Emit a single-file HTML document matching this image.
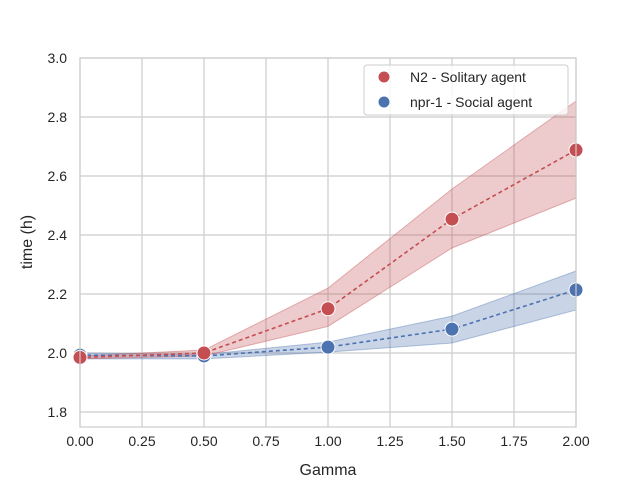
<!DOCTYPE html>
<html><head><meta charset="utf-8"><style>
body{margin:0;background:#fff;}
svg{display:block;font-family:"Liberation Sans","DejaVu Sans",sans-serif;}
</style></head><body>
<svg id="chart" width="640" height="480" viewBox="0 0 640 480">
<rect x="80" y="58" width="496" height="369" fill="#fff"/>
<g id="grid"></g><g id="bands"></g><g id="lines"></g><g id="ticks"></g>
<rect x="80" y="58" width="496" height="369" fill="none" stroke="#ccc" stroke-width="1.2"/>
<text x="328" y="475" text-anchor="middle" font-size="16" fill="#262626">Gamma</text>
<text x="32" y="242" text-anchor="middle" font-size="16" fill="#262626" transform="rotate(-90 32 242)">time (h)</text>
<g>
<rect x="364" y="65" width="204" height="50" rx="3" fill="#fff" fill-opacity="0.8" stroke="#ccc"/>
<circle cx="384" cy="77" r="6" fill="#c44e52" stroke="#fff"/>
<text x="410" y="82" font-size="14" fill="#262626">N2 - Solitary agent</text>
<circle cx="384" cy="102" r="6" fill="#4c72b0" stroke="#fff"/>
<text x="410" y="107" font-size="14" fill="#262626">npr-1 - Social agent</text>
</g>
</svg>
<script>
const gammas=[0,0.5,1.0,1.5,2.0];
const n2Mean=[1.985,2.0,2.15,2.454,2.688];
const n2Low=[1.98,1.99,2.09,2.356,2.525];
const n2High=[1.99,2.01,2.22,2.556,2.854];
const nprMean=[1.993,1.99,2.02,2.081,2.214];
const nprLow=[1.98,1.98,2.003,2.034,2.146];
const nprHigh=[2.0,1.995,2.037,2.125,2.278];
const xTicks=[0,0.25,0.5,0.75,1.0,1.25,1.5,1.75,2.0];
const xTickLabels=["0.00","0.25","0.50","0.75","1.00","1.25","1.50","1.75","2.00"];
const yTicks=[1.8,2.0,2.2,2.4,2.6,2.8,3.0];
const yTickLabels=["1.8","2.0","2.2","2.4","2.6","2.8","3.0"];
const NS="http://www.w3.org/2000/svg";
const X=v=>80+v/2*496;
const Y=v=>412-(v-1.8)*295;
function mk(tag,attrs,parent){const e=document.createElementNS(NS,tag);for(const k in attrs)e.setAttribute(k,attrs[k]);document.getElementById(parent).appendChild(e);return e;}
xTicks.forEach((t,i)=>{
 const g=mk('line',{x1:X(t),x2:X(t),y1:58,y2:427,stroke:'#ccc','stroke-width':1.2},'grid');
 
 
 const l=mk('text',{x:X(t),y:446,'text-anchor':'middle','font-size':14,fill:'#262626'},'ticks');
 l.textContent=xTickLabels[i];
 
 
});
yTicks.forEach((t,i)=>{
 const g=mk('line',{x1:80,x2:576,y1:Y(t),y2:Y(t),stroke:'#ccc','stroke-width':1.2},'grid');
 
 
 const l=mk('text',{x:67,y:Y(t)+5,'text-anchor':'end','font-size':14,fill:'#262626'},'ticks');
 l.textContent=yTickLabels[i];
 
 
});
function series(mean,low,high,color,name){
 let d=gammas.map((g,i)=>(i?'L':'M')+X(g)+','+Y(high[i])).join('');
 for(let i=gammas.length-1;i>=0;i--)d+='L'+X(gammas[i])+','+Y(low[i]);
 const b=mk('path',{d:d+'Z',fill:color,'fill-opacity':0.3,stroke:color,'stroke-opacity':0.4},'bands');
 
 
 const p=mk('polyline',{points:gammas.map((g,i)=>X(g)+','+Y(mean[i])).join(' '),fill:'none',stroke:color,'stroke-width':1.6,'stroke-dasharray':'4,3'},'lines');
 
 
 gammas.forEach((g,i)=>{
  const c=mk('circle',{cx:X(g),cy:Y(mean[i]),r:7,fill:color,stroke:'#fff','stroke-width':1},'lines');
  
  
 });
}
series(nprMean,nprLow,nprHigh,'#4c72b0','npr1');
series(n2Mean,n2Low,n2High,'#c44e52','n2');
</script>
</body></html>
